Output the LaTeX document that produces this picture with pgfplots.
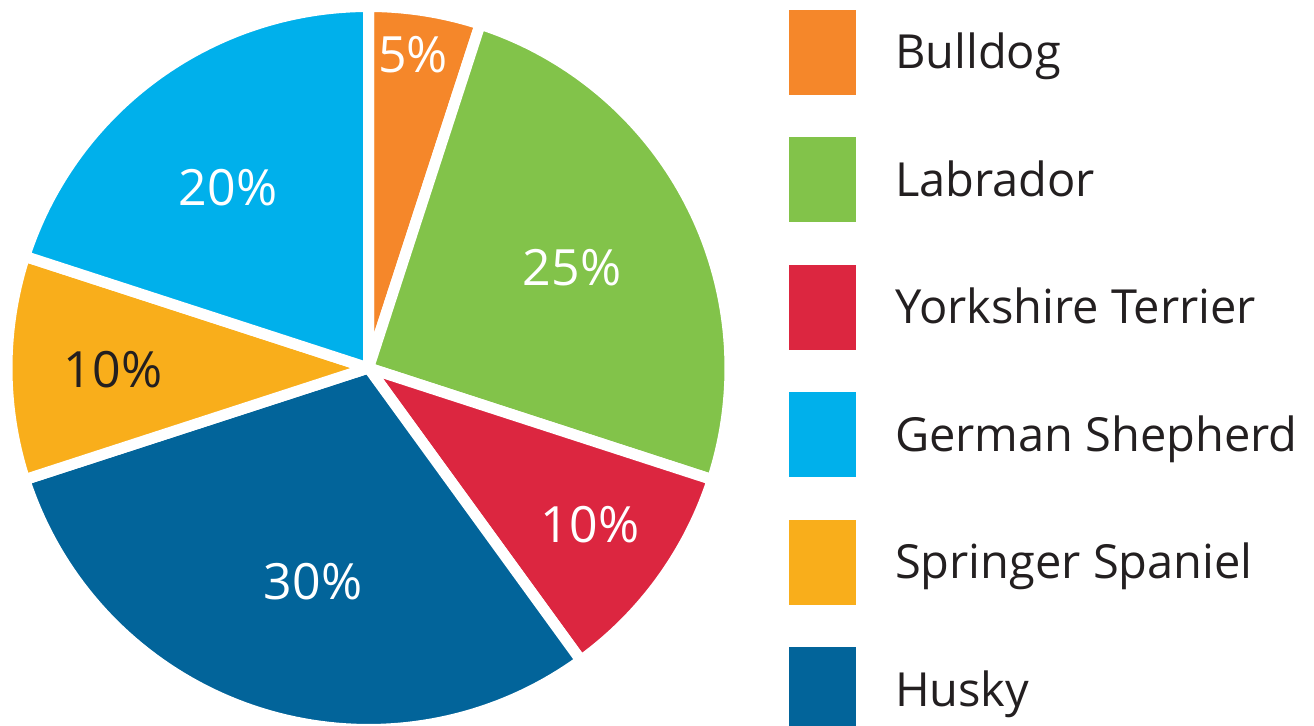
\documentclass[border=0pt]{standalone}
\usepackage{pgfplots}
\pgfplotsset{compat=1.18}
\usepackage{fontspec}
\setmainfont{Open Sans}

\definecolor{bulldog}{HTML}{F5872A}
\definecolor{labrador}{HTML}{82C34A}
\definecolor{yorkie}{HTML}{DC2640}
\definecolor{shepherd}{HTML}{00B0EB}
\definecolor{springer}{HTML}{F9AE1B}
\definecolor{husky}{HTML}{02649A}
\definecolor{txt}{HTML}{231F20}

% pie centre and radius, in axis units (1 unit = 0.5pt)
\newcommand{\cx}{368.5}
\newcommand{\cy}{358}
\newcommand{\R}{361.5}

\begin{document}
\begin{tikzpicture}
\begin{axis}[
    x=0.5pt, y=0.5pt,
    xmin=0, xmax=1314, ymin=0, ymax=726,
    hide axis, clip=false,
    slice/.style={draw=white, line width=5.5pt, line join=round, samples=80, forget plot},
    legend cell align=left,
    legend image code/.code={\fill[#1, draw=none] (0pt,-21.25pt) rectangle (33.5pt,21.25pt);},
    legend style={at={(axis cs:789,716)}, anchor=north west, draw=none, fill=none,
        inner sep=0pt, inner xsep=0pt, inner ysep=0pt, outer sep=0pt,
        row sep=21.25pt, column sep=19.5pt,
        nodes={inner sep=0pt}, text=txt,
        font=\fontsize{23.5}{28}\selectfont},
]
% shares (%): Bulldog 5, Labrador 25, Yorkshire Terrier 10, Husky 30,
% Springer Spaniel 10, German Shepherd 20 -- clockwise from 12 o'clock, 3.6 deg per %
\addplot[slice, fill=bulldog,  domain=72:90]     ({\cx+\R*cos(x)},{\cy+\R*sin(x)}) -- (axis cs:\cx,\cy) -- cycle;
\addplot[slice, fill=labrador, domain=-18:72]    ({\cx+\R*cos(x)},{\cy+\R*sin(x)}) -- (axis cs:\cx,\cy) -- cycle;
\addplot[slice, fill=yorkie,   domain=-54:-18]   ({\cx+\R*cos(x)},{\cy+\R*sin(x)}) -- (axis cs:\cx,\cy) -- cycle;
\addplot[slice, fill=husky,    domain=-162:-54]  ({\cx+\R*cos(x)},{\cy+\R*sin(x)}) -- (axis cs:\cx,\cy) -- cycle;
\addplot[slice, fill=springer, domain=-198:-162] ({\cx+\R*cos(x)},{\cy+\R*sin(x)}) -- (axis cs:\cx,\cy) -- cycle;
\addplot[slice, fill=shepherd, domain=90:162]    ({\cx+\R*cos(x)},{\cy+\R*sin(x)}) -- (axis cs:\cx,\cy) -- cycle;

\addlegendimage{fill=bulldog}  \addlegendentry{Bulldog}
\addlegendimage{fill=labrador} \addlegendentry{Labrador}
\addlegendimage{fill=yorkie}   \addlegendentry{Yorkshire Terrier}
\addlegendimage{fill=shepherd} \addlegendentry{German Shepherd}
\addlegendimage{fill=springer} \addlegendentry{Springer Spaniel}
\addlegendimage{fill=husky}    \addlegendentry{Husky}

\begin{scope}[every node/.style={font=\fontsize{25}{30}\selectfont, text=white}]
\node at (axis cs:413,671) {5\%};
\node at (axis cs:572,458) {25\%};
\node at (axis cs:590,201) {10\%};
\node at (axis cs:313,144) {30\%};
\node[text=txt] at (axis cs:113,356) {10\%};
\node at (axis cs:228,538) {20\%};
\end{scope}
\end{axis}
% the reference is cut off at the bottom edge, through the last legend key
\pgfresetboundingbox
\useasboundingbox (0,0) rectangle (657pt,363pt);
\end{tikzpicture}
\end{document}
